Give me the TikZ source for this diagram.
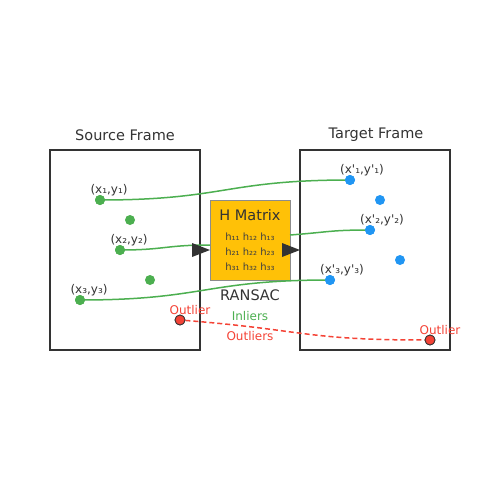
\documentclass[tikz,border=0pt]{standalone}
\usepackage{fontspec}
\setmainfont{DejaVu Sans}[Ligatures=TeXOff]
\begin{document}
\begin{tikzpicture}[x=1pt,y=-1pt,
  frame/.style={draw=black!80,line width=1.5pt},
  title/.style={text=black!80,font=\fontsize{14.5}{17}\selectfont},
  lbl/.style={text=black!80,font=\fontsize{12}{14}\selectfont,inner sep=0pt},
  gpt/.style={circle,fill={rgb,255:red,76;green,175;blue,80},inner sep=0pt,minimum size=10pt},
  bpt/.style={circle,fill={rgb,255:red,33;green,150;blue,243},inner sep=0pt,minimum size=10pt},
  rpt/.style={circle,fill={rgb,255:red,244;green,67;blue,54},draw=black!80,line width=0.8pt,inner sep=0pt,minimum size=10pt},
  gline/.style={draw={rgb,255:red,76;green,175;blue,80},line width=1.5pt},
  rline/.style={draw={rgb,255:red,244;green,67;blue,54},line width=1.5pt,dash pattern=on 5pt off 3pt},
  tri/.style={fill=black!80}]
\useasboundingbox (0,0) rectangle (500,500);
\definecolor{gtxt}{RGB}{76,175,80}
\definecolor{rtxt}{RGB}{244,67,54}
% frames
\draw[frame] (50,150) rectangle (200,350);
\draw[frame] (300,150) rectangle (450,350);
\node[title] (st) at (125,135) {Source Frame};
\node[title] (tt) at (376,135) {Target Frame};
% H box
\node[draw=black!45,line width=1pt,fill={rgb,255:red,255;green,193;blue,7},minimum width=80pt,minimum height=80pt,inner sep=0pt] (H) at (250,240) {};
\node[title] (ht) at (250,215) {H Matrix};
\node[text=black!75,font=\fontsize{10}{12}\selectfont,align=center,inner sep=0pt] (hm) at (250,252) {h₁₁ h₁₂ h₁₃\\[3pt] h₂₁ h₂₂ h₂₃\\[3pt] h₃₁ h₃₂ h₃₃};
\node[title] (rs) at (250,295) {RANSAC};
\node[text=gtxt,font=\fontsize{12}{14}\selectfont] (inl) at (250,316) {Inliers};
\node[text=rtxt,font=\fontsize{12}{14}\selectfont] (outl) at (250,336) {Outliers};
% points
\node[gpt] (s1) at (100,200) {};
\node[gpt] (s4) at (130,220) {};
\node[gpt] (s2) at (120,250) {};
\node[gpt] (s5) at (150,280) {};
\node[gpt] (s3) at (80,300) {};
\node[bpt] (t1) at (350,180) {};
\node[bpt] (t4) at (380,200) {};
\node[bpt] (t2) at (370,230) {};
\node[bpt] (t5) at (400,260) {};
\node[bpt] (t3) at (330,280) {};
\coordinate (a1) at (210,245);
\coordinate (a2) at (290,235);
% connectors
\draw[gline] (s1.center) .. controls (225,200) and (225,180) .. (t1.center);
\draw[gline] (s2.center) .. controls (165,250) and (165,245) .. (a1);
\draw[gline] (a2) .. controls (330,232) and (330,230) .. (t2.center);
\draw[gline] (s3.center) .. controls (205,300) and (205,280) .. (t3.center);
\node[rpt] (o1) at (180,320) {};
\node[rpt] (o2) at (430,340) {};
\draw[rline] (o1) .. controls (305,330) and (305,340) .. (o2);
\node[rpt] at (180,320) {};
\node[rpt] at (430,340) {};
\node[bpt] at (350,180) {};
\node[bpt] at (370,230) {};
\node[bpt] at (330,280) {};
\node[gpt] at (100,200) {};
\node[gpt] at (120,250) {};
\node[gpt] at (80,300) {};
% arrows
\fill[tri] (192,243) -- (210,250) -- (192,257) -- cycle;
\fill[tri] (282,243) -- (300,250) -- (282,257) -- cycle;
% labels
\node[lbl] (l1) at (109,190.5) {(x₁,y₁)};
\node[lbl] (l2) at (129,240.5) {(x₂,y₂)};
\node[lbl] (l3) at (89,290.5) {(x₃,y₃)};
\node[lbl] (m1) at (362,170.5) {(x'₁,y'₁)};
\node[lbl] (m2) at (382,220.5) {(x'₂,y'₂)};
\node[lbl] (m3) at (342,270.5) {(x'₃,y'₃)};
\node[text=rtxt,font=\fontsize{12}{14}\selectfont,inner sep=0pt] (ol1) at (190,310.5) {Outlier};
\node[text=rtxt,font=\fontsize{12}{14}\selectfont,inner sep=0pt] (ol2) at (440,330.5) {Outlier};
\end{tikzpicture}
\end{document}
